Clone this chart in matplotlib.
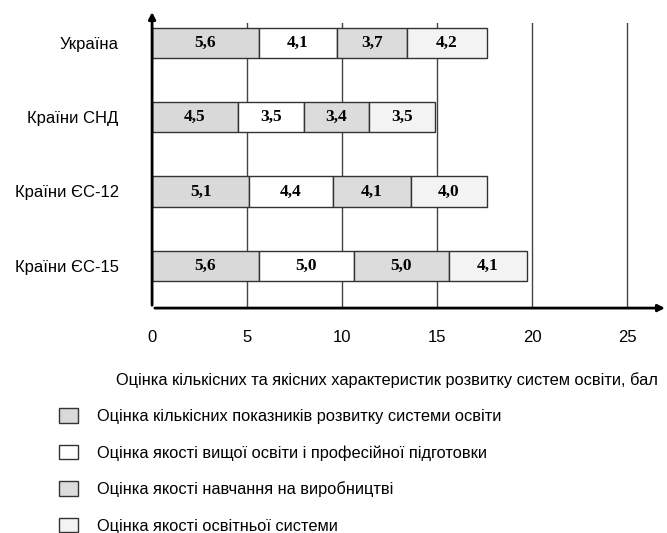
import numpy as np
import matplotlib.pyplot as plt

plt.rcParams['font.family'] = ['Liberation Sans', 'DejaVu Sans']

# groups, top to bottom
regions = ['Україна', 'Країни СНД', 'Країни ЄС-12', 'Країни ЄС-15']

# scores per component
quant_dev = [5.6, 4.5, 5.1, 5.6]
higher_edu = [4.1, 3.5, 4.4, 5.0]
workplace = [3.7, 3.4, 4.1, 5.0]
edu_system = [4.2, 3.5, 4.0, 4.1]

series_names = ['Оцінка кількісних показників розвитку системи освіти',
                'Оцінка якості вищої освіти і професійної підготовки',
                'Оцінка якості навчання на виробництві',
                'Оцінка якості освітньої системи']
colors = ['#d9d9d9', '#ffffff', '#dcdcdc', '#f3f3f3']

x_ticks = [0, 5, 10, 15, 20, 25]

fig = plt.figure(figsize=(6.67, 5.33), dpi=100)
ax = fig.add_axes([0.228, 0.422, 0.764, 0.535])

y = np.arange(len(regions))
left = np.zeros(len(regions))
handles = []
for vals, col, name in zip([quant_dev, higher_edu, workplace, edu_system], colors, series_names):
    bars = ax.barh(y, vals, left=left, height=0.41, color=col, edgecolor='#333333',
                   linewidth=1.0, zorder=3, label=name)
    for b, v in zip(bars, vals):
        ax.text(b.get_x() + b.get_width() / 2, b.get_y() + b.get_height() / 2,
                f'{v:.1f}'.replace('.', ','), ha='center', va='center',
                family='Liberation Serif', weight='bold', fontsize=12.5, zorder=4)
    left += np.array(vals)
    handles.append(bars)

ax.set_xlim(0, 26.8)
ax.set_ylim(3.57, -0.27)

for t in x_ticks[1:]:
    ax.axvline(t, color='#444444', lw=1.0, zorder=1)

ax.set_yticks(y)
ax.set_yticklabels(regions, fontsize=12)
ax.set_xticks(x_ticks)
ax.set_xticklabels([str(t) for t in x_ticks], fontsize=12)
ax.tick_params(length=0)
ax.tick_params(axis='y', pad=24)
ax.tick_params(axis='x', pad=16)
for s in ax.spines.values():
    s.set_visible(False)

# axis arrows
ax.annotate('', xy=(0, 1.048), xytext=(0, 0), xycoords='axes fraction',
            arrowprops=dict(arrowstyle='-|>', lw=2, color='black', mutation_scale=10))
ax.annotate('', xy=(1.012, 0), xytext=(0, 0), xycoords='axes fraction',
            arrowprops=dict(arrowstyle='-|>', lw=2, color='black', mutation_scale=10))

fig.text(0.580, 0.287, 'Оцінка кількісних та якісних характеристик розвитку систем освіти, бал',
         ha='center', va='center', fontsize=11.8)

fig.legend(handles=handles, labels=series_names, loc='upper left',
           bbox_to_anchor=(0.067, 0.2615), frameon=False, fontsize=11.8,
           handlelength=1.16, handleheight=1.0, labelspacing=1.25, handletextpad=1.16)

fig.savefig('out.png', dpi=100)
